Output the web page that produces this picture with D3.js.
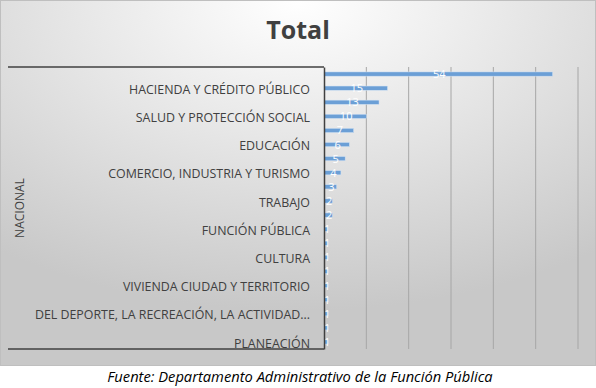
<!DOCTYPE html>
<html>
<head>
<meta charset="utf-8">
<script src="https://cdn.jsdelivr.net/npm/d3@7"></script>
<style>
  body { margin: 0; background: #fff; }
  svg text { font-family: "Open Sans", sans-serif; }
</style>
</head>
<body>
<svg id="chart" width="596" height="388"></svg>
<script>
// categorías de arriba a abajo; las que no tienen etiqueta visible van en null
const categories = [
  null, "HACIENDA Y CRÉDITO PÚBLICO",
  null, "SALUD Y PROTECCIÓN SOCIAL",
  null, "EDUCACIÓN",
  null, "COMERCIO, INDUSTRIA Y TURISMO",
  null, "TRABAJO",
  null, "FUNCIÓN PÚBLICA",
  null, "CULTURA",
  null, "VIVIENDA CIUDAD Y TERRITORIO",
  null, "DEL DEPORTE, LA RECREACIÓN, LA ACTIVIDAD...",
  null, "PLANEACIÓN"
];
const values = [54, 15, 13, 10, 7, 6, 5, 4, 3, 2, 2, 1, 1, 1, 1, 1, 1, 1, 1, 1];
const groupLabel = "NACIONAL";
const gridTicks = [10, 20, 30, 40, 50, 60];
const title = "Total";
const source = "Fuente: Departamento Administrativo de la Función Pública";

const width = 596;
const height = 388;
const plot = { left: 324, right: 578, top: 67, bottom: 349 };

const svg = d3.select("#chart");

// fondo degradado del gráfico
const defs = svg.append("defs");
const grad = defs.append("radialGradient")
  .attr("id", "bg")
  .attr("cx", "50%").attr("cy", "0%")
  .attr("r", "85%");
grad.append("stop").attr("offset", "0%").attr("stop-color", "#ffffff");
grad.append("stop").attr("offset", "100%").attr("stop-color", "#c8c8c8");

svg.append("rect")
  .attr("x", 0.5).attr("y", 0.5)
  .attr("width", width - 1).attr("height", 365)
  .attr("fill", "url(#bg)")
  .attr("stroke", "#bfbfbf");

svg.append("text")
  .attr("x", 298).attr("y", 39)
  .attr("text-anchor", "middle")
  .attr("font-size", 25)
  .attr("font-weight", "bold")
  .attr("fill", "#404040")
  .text(title);

const x = d3.scaleLinear()
  .domain([0, 60])
  .range([plot.left, plot.right]);

const y = d3.scaleBand()
  .domain(d3.range(values.length))
  .range([plot.top, plot.bottom])
  .paddingInner(0.7)
  .paddingOuter(0.35);

// líneas de cuadrícula
svg.append("g")
  .selectAll("line")
  .data(gridTicks)
  .join("line")
  .attr("x1", d => x(d)).attr("x2", d => x(d))
  .attr("y1", plot.top).attr("y2", plot.bottom)
  .attr("stroke", "#a6a6a6")
  .attr("stroke-width", 1);

// barras
svg.append("g")
  .selectAll("rect")
  .data(values)
  .join("rect")
  .attr("x", x(0))
  .attr("y", (d, i) => y(i))
  .attr("width", d => x(d) - x(0))
  .attr("height", y.bandwidth())
  .attr("fill", "#6b9fd6")
  .attr("stroke", "#d4e3f4")
  .attr("stroke-width", 0.5);

// etiquetas de valor
svg.append("g")
  .selectAll("text")
  .data(values)
  .join("text")
  .attr("x", d => (x(0) + x(d)) / 2 + 1)
  .attr("y", (d, i) => y(i) + y.bandwidth() / 2 + 4)
  .attr("text-anchor", "middle")
  .attr("font-size", 11)
  .attr("fill", "#ffffff")
  .text(d => d);

// eje de categorías
const yAxis = d3.axisLeft(y)
  .tickSize(0)
  .tickPadding(14)
  .tickFormat(i => categories[i] || "");

const gy = svg.append("g")
  .attr("transform", "translate(" + plot.left + ",0)")
  .call(yAxis);
gy.select(".domain")
  .attr("stroke", "#404040")
  .attr("stroke-width", 1.5);
gy.selectAll("text")
  .attr("font-size", 12.4)
  .attr("fill", "#404040")
  .attr("dy", "0.45em");

// corchete del grupo
const bracket = svg.append("g")
  .attr("stroke", "#404040")
  .attr("stroke-width", 1.5);
bracket.append("line")
  .attr("x1", 8).attr("x2", plot.left)
  .attr("y1", plot.top).attr("y2", plot.top);
bracket.append("line")
  .attr("x1", 8).attr("x2", plot.left)
  .attr("y1", plot.bottom).attr("y2", plot.bottom);

svg.append("text")
  .attr("transform", "translate(24," + (plot.top + plot.bottom) / 2 + ") rotate(-90)")
  .attr("text-anchor", "middle")
  .attr("font-size", 12)
  .attr("fill", "#404040")
  .text(groupLabel);

// fuente
svg.append("text")
  .attr("x", 300).attr("y", 382)
  .attr("text-anchor", "middle")
  .attr("font-size", 14.7)
  .attr("font-style", "italic")
  .attr("fill", "#000")
  .text(source);
</script>
</body>
</html>
